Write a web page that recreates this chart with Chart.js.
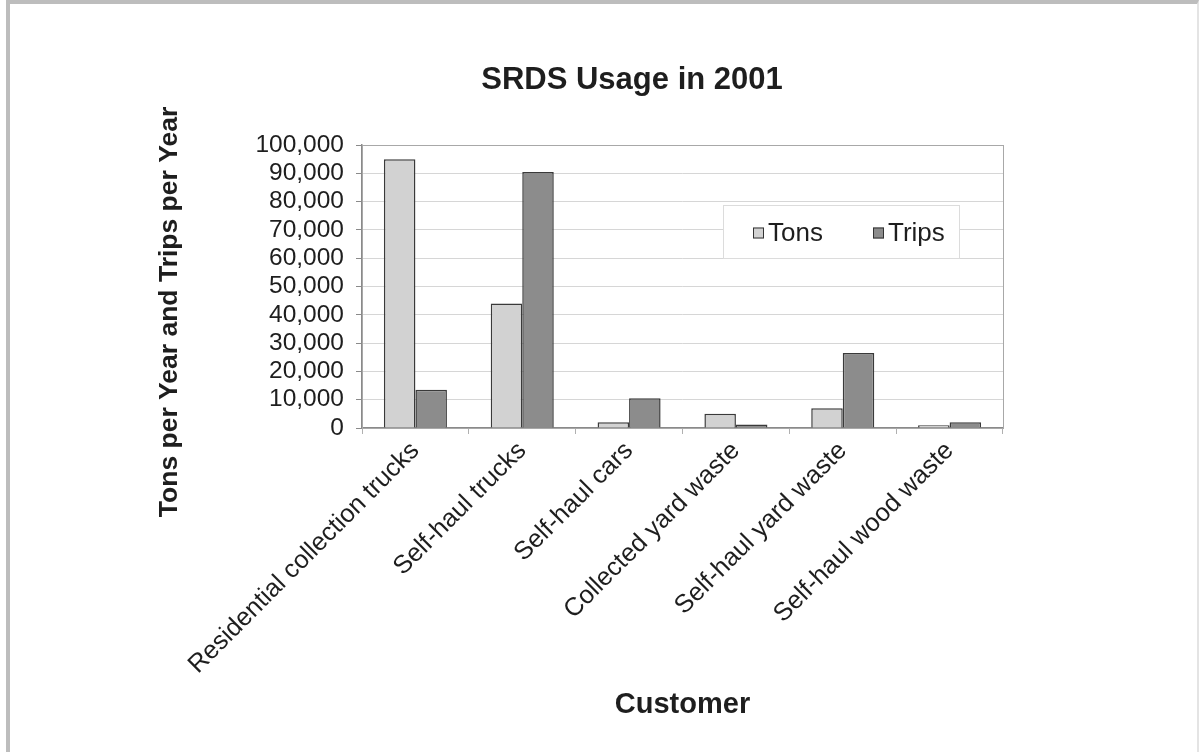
<!DOCTYPE html>
<html>
<head>
<meta charset="utf-8">
<title>SRDS Usage in 2001</title>
<script src="https://cdn.jsdelivr.net/npm/chart.js@4.4.1/dist/chart.umd.min.js"></script>
<style>
  html, body { margin: 0; padding: 0; background: #fff; }
  .frame {
    position: absolute; left: 6px; top: 0; width: 1193px; height: 752px;
    border-left: 4px solid #bdbdbd; border-top: 4px solid #bdbdbd; border-right: 2px solid #e4e4e4;
    box-sizing: border-box;
  }
  .wrap { position: absolute; left: 10px; top: 6px; width: 1189px; height: 746px; }
</style>
</head>
<body>
<div class="frame"></div>
<div class="wrap"><canvas id="usageChart"></canvas></div>
<script>
const categories = ['Residential collection trucks', 'Self-haul trucks', 'Self-haul cars',
                    'Collected yard waste', 'Self-haul yard waste', 'Self-haul wood waste'];
const tons = [95000, 44000, 2000, 5000, 7000, 1000];
const trips = [13500, 90500, 10500, 1200, 26500, 2000];

const FONT = "'Liberation Sans', Arial, Helvetica, sans-serif";
const INK = '#1e1e1e';

// Title, y-axis title, plot border and the boxed legend inside the plot
const decorations = {
  id: 'decorations',
  beforeDatasetsDraw(chart) {
    const { ctx, chartArea: a } = chart;
    ctx.save();
    ctx.strokeStyle = '#a8a8a8';
    ctx.lineWidth = 1;
    ctx.strokeRect(a.left + 0.5, a.top + 0.5, a.right - a.left, a.bottom - a.top);
    ctx.restore();
  },
  afterDraw(chart) {
    const { ctx, chartArea: a } = chart;
    ctx.save();
    ctx.fillStyle = INK;
    ctx.textAlign = 'center';
    ctx.textBaseline = 'middle';

    ctx.font = 'bold 31px ' + FONT;
    ctx.fillText('SRDS Usage in 2001', a.left + 270, a.top - 65);

    ctx.save();
    ctx.translate(a.left - 192, a.top + 167);
    ctx.rotate(-Math.PI / 2);
    ctx.font = 'bold 26.5px ' + FONT;
    ctx.fillText('Tons per Year and Trips per Year', 0, 0);
    ctx.restore();

    // legend box
    const lx = a.left + 361, ly = a.top + 60, lw = 236, lh = 53;
    ctx.fillStyle = '#fff';
    ctx.fillRect(lx, ly, lw, lh);
    ctx.strokeStyle = '#dcdcdc';
    ctx.strokeRect(lx + 0.5, ly + 0.5, lw, lh);
    ctx.font = '26px ' + FONT;
    ctx.textAlign = 'left';
    const offsets = [30, 150];
    chart.data.datasets.forEach((ds, i) => {
      const x = lx + offsets[i], y = ly + lh / 2 + 1;
      ctx.fillStyle = ds.backgroundColor;
      ctx.fillRect(x, y - 5, 11, 11);
      ctx.strokeStyle = '#333';
      ctx.lineWidth = 1;
      ctx.strokeRect(x + 0.5, y - 4.5, 10, 10);
      ctx.fillStyle = INK;
      ctx.fillText(ds.label, x + 15, y + 1);
    });
    ctx.restore();
  }
};

new Chart(document.getElementById('usageChart'), {
  type: 'bar',
  data: {
    labels: categories,
    datasets: [
      {
        label: 'Tons',
        data: tons,
        backgroundColor: '#d2d2d2',
        borderColor: '#3a3a3a',
        borderWidth: 1.5,
        barPercentage: 1,
        categoryPercentage: 0.59
      },
      {
        label: 'Trips',
        data: trips,
        backgroundColor: '#8c8c8c',
        borderColor: '#3a3a3a',
        borderWidth: 1.5,
        barPercentage: 1,
        categoryPercentage: 0.59
      }
    ]
  },
  options: {
    responsive: true,
    maintainAspectRatio: false,
    animation: false,
    layout: {
      padding: { top: 139, right: 196, left: 0, bottom: 0 }
    },
    plugins: {
      legend: { display: false },
      title: { display: false },
      tooltip: { enabled: false }
    },
    scales: {
      y: {
        min: 0,
        max: 100000,
        afterFit(scale) { scale.width = 352; },
        border: { color: '#8a8a8a', width: 1.5 },
        grid: { color: '#d6d6d6', tickLength: 6, tickColor: '#8a8a8a' },
        ticks: {
          stepSize: 10000,
          autoSkip: false,
          padding: 12,
          color: INK,
          font: { family: FONT, size: 24.5 },
          callback: v => v.toLocaleString('en-US')
        }
      },
      x: {
        afterFit(scale) { scale.height = 324; },
        border: { color: '#8a8a8a', width: 1.5 },
        grid: { drawOnChartArea: false, tickLength: 6, color: '#b0b0b0' },
        ticks: {
          autoSkip: false,
          minRotation: 45,
          maxRotation: 45,
          padding: 2,
          color: INK,
          font: { family: FONT, size: 25.5 }
        },
        title: {
          display: true,
          text: 'Customer',
          color: INK,
          font: { family: FONT, size: 29, weight: 'bold' },
          padding: { top: 0, bottom: 30 }
        }
      }
    }
  },
  plugins: [decorations]
});
</script>
</body>
</html>
